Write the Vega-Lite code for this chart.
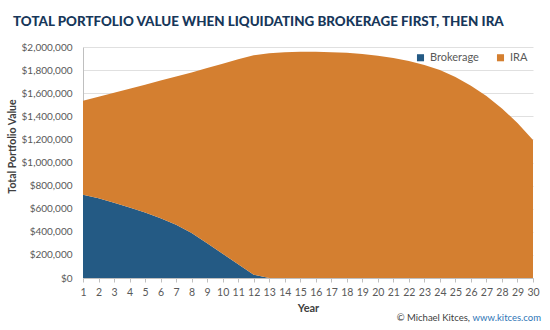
{
  "$schema": "https://vega.github.io/schema/vega-lite/v6.json",
  "width": 450,
  "height": 231,
  "autosize": {"type": "none"},
  "padding": {"left": 83, "top": 47, "right": 17, "bottom": 52},
  "background": "white",
  "config": {"view": {"stroke": null}, "font": "Lato"},
  "title": {
    "text": "TOTAL PORTFOLIO VALUE WHEN LIQUIDATING BROKERAGE FIRST, THEN IRA",
    "anchor": "start",
    "frame": "group",
    "dx": -70,
    "offset": 14,
    "fontSize": 13.4,
    "fontWeight": 900,
    "font": "Lato",
    "color": "#17375a"
  },
  "data": {
    "values": [
      {"year": 1, "account": "Brokerage", "value": 721000},
      {"year": 2, "account": "Brokerage", "value": 690000},
      {"year": 3, "account": "Brokerage", "value": 652000},
      {"year": 4, "account": "Brokerage", "value": 610000},
      {"year": 5, "account": "Brokerage", "value": 567000},
      {"year": 6, "account": "Brokerage", "value": 517000},
      {"year": 7, "account": "Brokerage", "value": 460000},
      {"year": 8, "account": "Brokerage", "value": 390000},
      {"year": 9, "account": "Brokerage", "value": 300000},
      {"year": 10, "account": "Brokerage", "value": 210000},
      {"year": 11, "account": "Brokerage", "value": 120000},
      {"year": 12, "account": "Brokerage", "value": 28000},
      {"year": 13, "account": "Brokerage", "value": 0},
      {"year": 14, "account": "Brokerage", "value": 0},
      {"year": 15, "account": "Brokerage", "value": 0},
      {"year": 16, "account": "Brokerage", "value": 0},
      {"year": 17, "account": "Brokerage", "value": 0},
      {"year": 18, "account": "Brokerage", "value": 0},
      {"year": 19, "account": "Brokerage", "value": 0},
      {"year": 20, "account": "Brokerage", "value": 0},
      {"year": 21, "account": "Brokerage", "value": 0},
      {"year": 22, "account": "Brokerage", "value": 0},
      {"year": 23, "account": "Brokerage", "value": 0},
      {"year": 24, "account": "Brokerage", "value": 0},
      {"year": 25, "account": "Brokerage", "value": 0},
      {"year": 26, "account": "Brokerage", "value": 0},
      {"year": 27, "account": "Brokerage", "value": 0},
      {"year": 28, "account": "Brokerage", "value": 0},
      {"year": 29, "account": "Brokerage", "value": 0},
      {"year": 30, "account": "Brokerage", "value": 0},
      {"year": 1, "account": "IRA", "value": 814000},
      {"year": 2, "account": "IRA", "value": 880000},
      {"year": 3, "account": "IRA", "value": 952000},
      {"year": 4, "account": "IRA", "value": 1029000},
      {"year": 5, "account": "IRA", "value": 1107000},
      {"year": 6, "account": "IRA", "value": 1193000},
      {"year": 7, "account": "IRA", "value": 1285000},
      {"year": 8, "account": "IRA", "value": 1390000},
      {"year": 9, "account": "IRA", "value": 1518000},
      {"year": 10, "account": "IRA", "value": 1646000},
      {"year": 11, "account": "IRA", "value": 1775000},
      {"year": 12, "account": "IRA", "value": 1900000},
      {"year": 13, "account": "IRA", "value": 1945000},
      {"year": 14, "account": "IRA", "value": 1954000},
      {"year": 15, "account": "IRA", "value": 1958000},
      {"year": 16, "account": "IRA", "value": 1958000},
      {"year": 17, "account": "IRA", "value": 1955000},
      {"year": 18, "account": "IRA", "value": 1950000},
      {"year": 19, "account": "IRA", "value": 1940000},
      {"year": 20, "account": "IRA", "value": 1925000},
      {"year": 21, "account": "IRA", "value": 1905000},
      {"year": 22, "account": "IRA", "value": 1878000},
      {"year": 23, "account": "IRA", "value": 1845000},
      {"year": 24, "account": "IRA", "value": 1800000},
      {"year": 25, "account": "IRA", "value": 1740000},
      {"year": 26, "account": "IRA", "value": 1665000},
      {"year": 27, "account": "IRA", "value": 1575000},
      {"year": 28, "account": "IRA", "value": 1468000},
      {"year": 29, "account": "IRA", "value": 1343000},
      {"year": 30, "account": "IRA", "value": 1195000}
    ]
  },
  "layer": [
    {
      "mark": {"type": "area", "interpolate": "linear"},
      "encoding": {
        "x": {
          "field": "year",
          "type": "quantitative",
          "scale": {"domain": [1, 30], "nice": false, "zero": false},
          "axis": {
            "values": [1,2,3,4,5,6,7,8,9,10,11,12,13,14,15,16,17,18,19,20,21,22,23,24,25,26,27,28,29,30],
            "tickCount": 30,
            "labelOverlap": false,
            "title": "Year",
            "titleFontSize": 11,
            "titleFontWeight": "bold",
            "titleColor": "#404040",
            "titleAnchor": "middle",
            "titlePadding": 5,
            "labelFontSize": 10.5,
            "labelColor": "#595959",
            "labelPadding": 5,
            "labelFlush": false,
            "grid": false,
            "domainColor": "#bfbfbf",
            "tickColor": "#bfbfbf",
            "tickSize": 4
          }
        },
        "y": {
          "field": "value",
          "type": "quantitative",
          "stack": "zero",
          "scale": {"domain": [0, 2000000], "nice": false},
          "axis": {
            "values": [0, 200000, 400000, 600000, 800000, 1000000, 1200000, 1400000, 1600000, 1800000, 2000000],
            "tickCount": 11,
            "labelOverlap": false,
            "format": "$,.0f",
            "title": "Total Portfolio Value",
            "titleFontSize": 10.5,
            "titleFontWeight": "bold",
            "titleColor": "#404040",
            "titlePadding": 4,
            "titleY": 99,
            "labelFontSize": 10,
            "labelColor": "#595959",
            "labelPadding": 11,
            "ticks": false,
            "gridColor": "#e0e0e0",
            "domainColor": "#bfbfbf"
          }
        },
        "color": {
          "field": "account",
          "type": "nominal",
          "scale": {"domain": ["Brokerage", "IRA"], "range": ["#245a84", "#d47f30"]},
          "legend": {
            "title": null,
            "orient": "top-right",
            "direction": "horizontal",
            "offset": 5,
            "symbolType": "square",
            "symbolSize": 50,
            "symbolStrokeWidth": 0,
            "labelFontSize": 11,
            "labelColor": "#595959",
            "columnPadding": 16,
            "padding": 0
          }
        },
        "order": {"field": "account", "sort": "ascending"}
      }
    },
    {
      "data": {"values": [{"credit": "© Michael Kitces,", "link": "www.kitces.com"}]},
      "mark": {"type": "text", "align": "right", "dx": -63, "dy": 40, "fontSize": 9.5, "color": "#404040"},
      "encoding": {
        "text": {"field": "credit"},
        "x": {"datum": 30},
        "y": {"datum": 0}
      }
    },
    {
      "data": {"values": [{"credit": "© Michael Kitces,", "link": "www.kitces.com"}]},
      "mark": {"type": "text", "align": "right", "dx": 8, "dy": 40, "fontSize": 9.5, "color": "#2e75b6"},
      "encoding": {
        "text": {"field": "link"},
        "x": {"datum": 30},
        "y": {"datum": 0}
      }
    }
  ]
}
